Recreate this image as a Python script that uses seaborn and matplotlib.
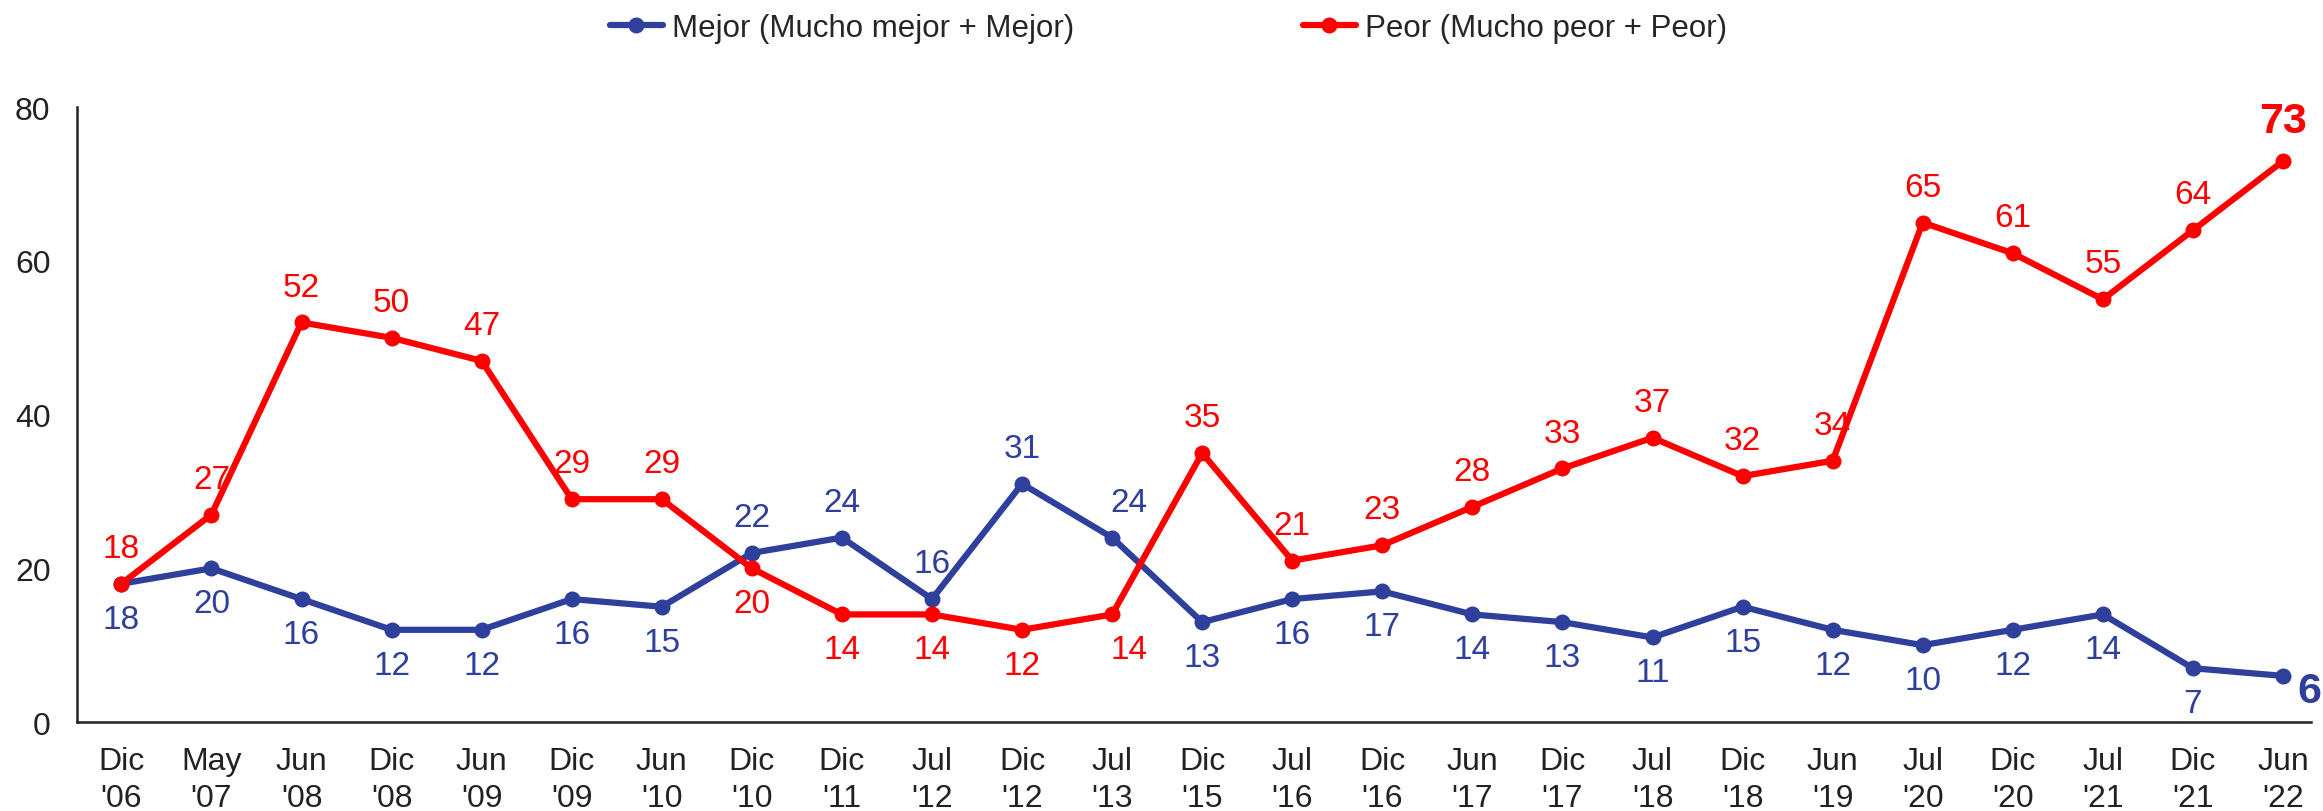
import matplotlib.pyplot as plt
import seaborn as sns
import numpy as np
import pandas as pd

periodos = ["Dic\n'06", "May\n'07", "Jun\n'08", "Dic\n'08", "Jun\n'09", "Dic\n'09", "Jun\n'10",
            "Dic\n'10", "Dic\n'11", "Jul\n'12", "Dic\n'12", "Jul\n'13", "Dic\n'15", "Jul\n'16",
            "Dic\n'16", "Jun\n'17", "Dic\n'17", "Jul\n'18", "Dic\n'18", "Jun\n'19", "Jul\n'20",
            "Dic\n'20", "Jul\n'21", "Dic\n'21", "Jun\n'22"]
mejor = [18, 20, 16, 12, 12, 16, 15, 22, 24, 16, 31, 24, 13, 16, 17, 14, 13, 11, 15, 12, 10, 12, 14, 7, 6]
peor = [18, 27, 52, 50, 47, 29, 29, 20, 14, 14, 12, 14, 35, 21, 23, 28, 33, 37, 32, 34, 65, 61, 55, 64, 73]
# etiqueta arriba (1) o abajo (-1); 0 = a la derecha
pos_mejor = [-1, -1, -1, -1, -1, -1, -1, 1, 1, 1, 1, 1, -1, -1, -1, -1, -1, -1, -1, -1, -1, -1, -1, -1, 0]
pos_peor = [1, 1, 1, 1, 1, 1, 1, -1, -1, -1, -1, -1, 1, 1, 1, 1, 1, 1, 1, 1, 1, 1, 1, 1, 1]

lbl_mejor = 'Mejor (Mucho mejor + Mejor)'
lbl_peor = 'Peor (Mucho peor + Peor)'
azul = '#2E3F9C'
rojo = '#FF0000'

df = pd.DataFrame({
    'periodo': periodos * 2,
    'valor': mejor + peor,
    'serie': [lbl_mejor] * len(periodos) + [lbl_peor] * len(periodos),
})

sns.set_style('white')
plt.rcParams['font.family'] = ['Liberation Sans', 'DejaVu Sans']

fig = plt.figure(figsize=(23.23, 8.12), dpi=100)
ax = fig.add_axes([0.0331, 0.1096, 0.9617, 0.757])

sns.lineplot(data=df, x='periodo', y='valor', hue='serie', sort=False,
             palette={lbl_mejor: azul, lbl_peor: rojo}, marker='o', markersize=11.5,
             markeredgewidth=0, linewidth=4.5, ax=ax, legend=True)

n = len(periodos)
for i in range(n):
    for vals, poss, col in ((mejor, pos_mejor, azul), (peor, pos_peor, rojo)):
        v, p = vals[i], poss[i]
        dx = 12 if i == 11 else 0
        if i == n - 1:
            if p == 0:
                ax.annotate(str(v), (i, v), xytext=(19, -11), textcoords='offset points',
                            ha='center', va='center', fontsize=31, fontweight='bold', color=col)
            else:
                ax.annotate(str(v), (i, v), xytext=(0, 29), textcoords='offset points',
                            ha='center', va='center', fontsize=31, fontweight='bold', color=col)
            continue
        ax.annotate(str(v), (i, v), xytext=(dx, 25.5 * p), textcoords='offset points',
                    ha='center', va='center', fontsize=24, color=col)

ax.set_ylim(0, 80)
ax.set_yticks([0, 20, 40, 60, 80])
ax.set_xlim(-0.494, n - 1 + 0.31)
ax.set_xlabel('')
ax.set_ylabel('')
ax.tick_params(axis='y', direction='in', length=8, width=1.5, labelsize=23, colors='#222222', pad=19)
ax.tick_params(axis='x', length=0, labelsize=23, colors='#222222', pad=17)
for lab in ax.get_xticklabels():
    lab.set_linespacing(1.3)
for s in ['top', 'right']:
    ax.spines[s].set_visible(False)
for s in ['left', 'bottom']:
    ax.spines[s].set_color('#222222')
    ax.spines[s].set_linewidth(1.8)

handles, labels = ax.get_legend_handles_labels()
ax.legend(handles, labels, loc='upper center', bbox_to_anchor=(0.503, 1.017),
          bbox_transform=fig.transFigure, ncol=2, frameon=False, fontsize=22.5,
          handlelength=1.7, handletextpad=0.3, columnspacing=7.3)

fig.savefig('out.png', dpi=100)
